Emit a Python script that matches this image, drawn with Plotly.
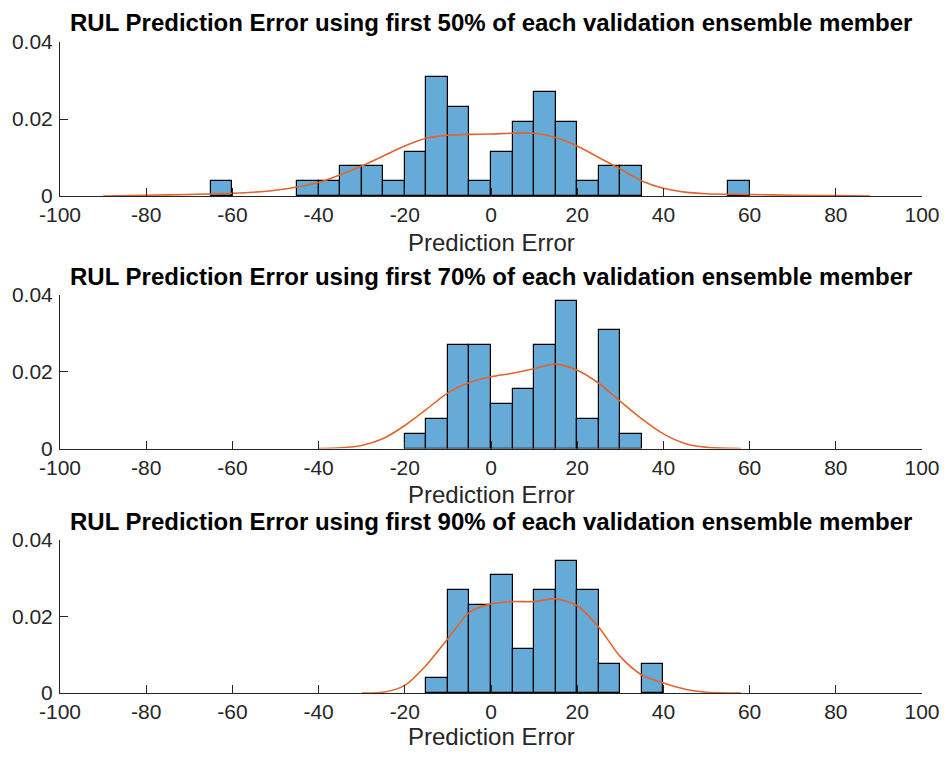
import plotly.graph_objects as go

# ---------------- data ----------------
bin_width = 5

p1_centers = [-62.5, -42.5, -37.5, -32.5, -27.5, -22.5, -17.5, -12.5, -7.5, -2.5,
              2.5, 7.5, 12.5, 17.5, 22.5, 27.5, 32.5, 57.5]
p1_density = [0.0038, 0.0038, 0.0038, 0.0077, 0.0077, 0.0038, 0.0115, 0.0308, 0.0231, 0.0038,
              0.0115, 0.0192, 0.0269, 0.0192, 0.0038, 0.0077, 0.0077, 0.0038]

p2_centers = [-17.5, -12.5, -7.5, -2.5, 2.5, 7.5, 12.5, 17.5, 22.5, 27.5, 32.5]
p2_density = [0.0038, 0.0077, 0.0269, 0.0269, 0.0115, 0.0154, 0.0269, 0.0385, 0.0077, 0.0308, 0.0038]

p3_centers = [-12.5, -7.5, -2.5, 2.5, 7.5, 12.5, 17.5, 22.5, 27.5, 37.5]
p3_density = [0.0038, 0.0269, 0.0231, 0.0308, 0.0115, 0.0269, 0.0346, 0.0269, 0.0077, 0.0077]

p1_curve_x = [-90, -80, -70, -60, -50, -40, -35, -30, -25, -20, -15, -10, -5, 0, 5, 10, 15,
              20, 25, 30, 35, 40, 45, 50, 60, 70, 80, 88]
p1_curve_y = [0.0, 0.0002, 0.0004, 0.0007, 0.0015, 0.0035, 0.0055, 0.0078, 0.0104, 0.0130,
              0.0150, 0.0158, 0.0160, 0.0161, 0.0163, 0.0163, 0.0152, 0.0130, 0.0100, 0.0070,
              0.0039, 0.0020, 0.0010, 0.0006, 0.0004, 0.0002, 0.0001, 0.0]

p2_curve_x = [-40, -35, -30, -25, -20, -15, -10, -5, 0, 5, 10, 15, 20, 25, 30, 35, 40, 45, 50, 58]
p2_curve_y = [0.0, 0.0002, 0.0008, 0.0026, 0.0060, 0.0102, 0.0145, 0.0172, 0.0187, 0.0196,
              0.0208, 0.0220, 0.0204, 0.0170, 0.0123, 0.0077, 0.0038, 0.0013, 0.0003, 0.0]

p3_curve_x = [-30, -25, -20, -15, -10, -5, 0, 5, 10, 15, 20, 25, 30, 35, 40, 45, 50, 58]
p3_curve_y = [0.0, 0.0002, 0.0020, 0.0073, 0.0142, 0.0211, 0.0233, 0.0239, 0.0239, 0.0246,
              0.0228, 0.0172, 0.0095, 0.0047, 0.0026, 0.0010, 0.0002, 0.0]

titles = [
    "RUL Prediction Error using first 50% of each validation ensemble member",
    "RUL Prediction Error using first 70% of each validation ensemble member",
    "RUL Prediction Error using first 90% of each validation ensemble member",
]
x_label = "Prediction Error"
x_ticks = [-100, -80, -60, -40, -20, 0, 20, 40, 60, 80, 100]
x_ticklabels = ["-100", "-80", "-60", "-40", "-20", "0", "20", "40", "60", "80", "100"]
y_ticks = [0, 0.02, 0.04]
y_ticklabels = ["0", "0.02", "0.04"]

# ---------------- styling ----------------
# the page body has an 8px margin, so the figure is drawn 8px in from the window corner
OFF = 8
W, H = 948 - 2 * OFF, 757 - 2 * OFF
FONT = "Arial, 'Liberation Sans', sans-serif"
AX_COLOR = "#262626"
BAR_FILL = "rgb(102,170,215)"
CURVE = "rgb(225,100,45)"

# pixel boxes (window coordinates, shifted to figure coordinates) of the three axes
x_left_px, x_right_px = 60 - OFF, 922 - OFF
boxes = [(42 - OFF, 196 - OFF), (295 - OFF, 448.5 - OFF), (540 - OFF, 693 - OFF)]
label_gap = [46, 46, 43]

fig = go.Figure()
series = [
    (p1_centers, p1_density, p1_curve_x, p1_curve_y),
    (p2_centers, p2_density, p2_curve_x, p2_curve_y),
    (p3_centers, p3_density, p3_curve_x, p3_curve_y),
]

for i, (cx, dens, kx, ky) in enumerate(series):
    n = "" if i == 0 else str(i + 1)
    fig.add_trace(go.Bar(
        x=cx, y=dens, width=bin_width,
        marker=dict(color=BAR_FILL, line=dict(color="black", width=1.2)),
        xaxis="x" + n, yaxis="y" + n, showlegend=False, hoverinfo="x+y",
    ))
    fig.add_trace(go.Scatter(
        x=kx, y=ky, mode="lines", line=dict(color=CURVE, width=1.6, shape="spline", smoothing=0.8),
        xaxis="x" + n, yaxis="y" + n, showlegend=False,
    ))
    top, bot = boxes[i]
    xdom = [x_left_px / W, x_right_px / W]
    ydom = [1 - bot / H, 1 - top / H]
    common = dict(showgrid=False, zeroline=False, showline=True, linecolor=AX_COLOR, linewidth=1,
                  ticks="inside", ticklen=8, tickwidth=1, tickcolor=AX_COLOR, automargin=False,
                  ticklabeloverflow="allow",
                  tickfont=dict(family=FONT, size=21, color=AX_COLOR))
    fig.update_layout(**{
        "xaxis" + n: dict(domain=xdom, range=[-100, 100], tickvals=x_ticks, ticktext=x_ticklabels,
                          anchor="y" + n, fixedrange=True, ticklabelstandoff=0, **common),
        "yaxis" + n: dict(domain=ydom, range=[0, 0.04], tickvals=y_ticks, ticktext=y_ticklabels,
                          anchor="x" + n, fixedrange=True, ticklabelstandoff=2, **common),
    })
    xc = (xdom[0] + xdom[1]) / 2
    fig.add_annotation(text="<b>" + titles[i] + "</b>", x=xc,
                       y=1 - (top - 19) / H, xref="paper", yref="paper",
                       xanchor="center", yanchor="middle", showarrow=False,
                       font=dict(family=FONT, size=24, color="#000000"))
    fig.add_annotation(text=x_label, x=xc, y=1 - (bot + label_gap[i]) / H, xref="paper", yref="paper",
                       xanchor="center", yanchor="middle", showarrow=False,
                       font=dict(family=FONT, size=24, color=AX_COLOR))

fig.update_layout(
    width=W, height=H, margin=dict(l=0, r=0, t=0, b=0, autoexpand=False),
    paper_bgcolor="white", plot_bgcolor="white", bargap=0, barmode="overlay",
    font=dict(family=FONT),
)

fig.write_html("out.html")
